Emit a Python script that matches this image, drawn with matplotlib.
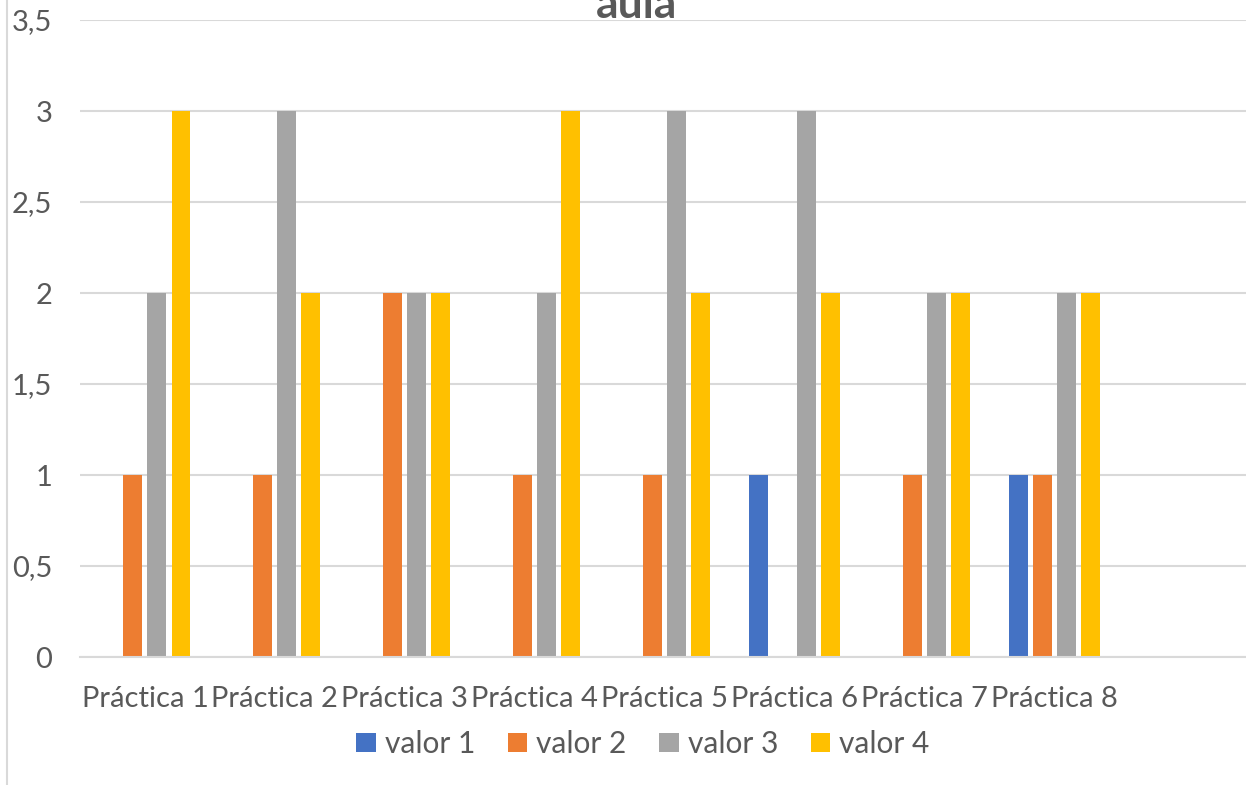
import matplotlib
matplotlib.use("Agg")
import matplotlib.pyplot as plt
from matplotlib.lines import Line2D
import numpy as np

plt.rcParams['font.family'] = ['Lato', 'DejaVu Sans']

categories = ["Práctica 1", "Práctica 2", "Práctica 3", "Práctica 4",
              "Práctica 5", "Práctica 6", "Práctica 7", "Práctica 8", ""]
series_names = ["valor 1", "valor 2", "valor 3", "valor 4"]
valor_1 = [0, 0, 0, 0, 0, 1, 0, 1]
valor_2 = [1, 1, 2, 1, 1, 0, 1, 1]
valor_3 = [2, 3, 2, 2, 3, 3, 2, 2]
valor_4 = [3, 2, 2, 3, 2, 2, 2, 2]
colors = ["#4472C4", "#ED7D31", "#A5A5A5", "#FFC000"]
y_ticks = [0, 0.5, 1, 1.5, 2, 2.5, 3, 3.5]
y_tick_labels = ["0", "0,5", "1", "1,5", "2", "2,5", "3", "3,5"]
title = "aula"

text_color = "#595959"
grid_color = "#D9D9D9"

W, H = 1246, 785
fig = plt.figure(figsize=(W / 100, H / 100), dpi=100)
ax = fig.add_axes([80 / W, 1 - 657 / H, (1249 - 80) / W, 637 / H])

series = [valor_1, valor_2, valor_3, valor_4]
x = np.arange(len(valor_1))
step = 0.185
width = 0.146
for i, (name, vals, c) in enumerate(zip(series_names, series, colors)):
    ax.bar(x + (i - 1.5) * step, vals, width=width, color=c, label=name,
           zorder=3)

ax.set_xlim(-0.5, len(categories) - 0.5)
ax.set_ylim(0, 3.5)
ax.set_yticks(y_ticks)
ax.set_yticklabels(y_tick_labels)
ax.set_xticks(np.arange(len(categories)))
ax.set_xticklabels(categories)

ax.grid(axis='y', color=grid_color, linewidth=1.5, zorder=0)
ax.set_axisbelow(True)
for s in ["top", "right", "left"]:
    ax.spines[s].set_visible(False)
ax.spines["bottom"].set_color(grid_color)
ax.spines["bottom"].set_linewidth(1.5)
ax.spines["bottom"].set_zorder(4)

ax.tick_params(axis='y', length=0, pad=20, labelsize=21, labelcolor=text_color)
ax.tick_params(axis='x', length=0, pad=21, labelsize=21, labelcolor=text_color)

fig.legend(loc='center', bbox_to_anchor=(643 / W, 1 - 744 / H), ncol=4,
           frameon=False, fontsize=21.5, handlelength=0.65, handleheight=0.65,
           handletextpad=0.3, columnspacing=1.1, labelcolor=text_color)

fig.text(637 / W, 1 - 18 / H, title, ha='center', va='baseline',
         fontsize=32, fontweight='bold', color=text_color)

fig.add_artist(Line2D([7 / W, 7 / W], [0, 1], transform=fig.transFigure,
                      color=grid_color, linewidth=1.5))

fig.savefig("out.png", dpi=100, facecolor="white")
